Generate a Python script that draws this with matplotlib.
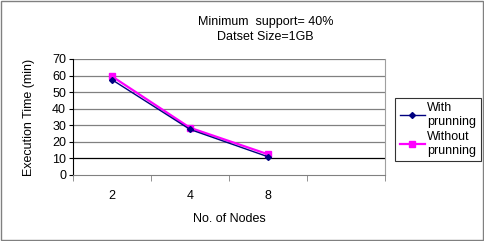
import numpy as np
import matplotlib.pyplot as plt

plt.rcParams['font.family'] = ['Liberation Sans', 'DejaVu Sans']

nodes = ['2', '4', '8', '']
with_pruning = [57.5, 27.5, 11.0]
without_pruning = [59.5, 28.5, 12.5]

fig = plt.figure(figsize=(4.85, 2.41), dpi=100)
ax = fig.add_axes([0.1505, 0.2739, 0.6433, 0.4813])

x = np.arange(len(with_pruning))
ax.plot(x, without_pruning, color='#FF00FF', marker='s', markersize=5,
        lw=1.6, label='Without\nprunning', zorder=3)
ax.plot(x, with_pruning, color='#000080', marker='D', markersize=3,
        lw=1.0, label='With\nprunning', zorder=4)

ax.set_xlim(-0.5, len(nodes) - 0.5)
ax.set_ylim(0, 70)
ax.set_yticks(range(0, 71, 10))
ax.set_xticks(np.arange(len(nodes)))
ax.set_xticklabels(nodes)
ax.set_xticks(np.arange(len(nodes) + 1) - 0.5, minor=True)
ax.tick_params(axis='x', which='major', length=0, pad=11, labelsize=9)
ax.tick_params(axis='x', which='minor', length=4, direction='out', color='#808080')
ax.tick_params(axis='y', length=3, labelsize=9, pad=2)

for v in range(10, 71, 10):
    ax.axhline(v, color='black' if v == 10 else '#808080', lw=0.9, zorder=1)

ax.spines['top'].set_visible(False)
ax.spines['right'].set_color('#a0a0a0')
ax.spines['left'].set_color('black')
ax.spines['bottom'].set_color('#808080')

ax.set_ylabel('Execution Time (min)', fontsize=9, labelpad=12)
ax.set_xlabel('No. of Nodes', fontsize=9, labelpad=8)

fig.text(0.547, 0.91, 'Minimum  support= 40%', ha='center', va='center', fontsize=9)
fig.text(0.547, 0.848, 'Datset Size=1GB', ha='center', va='center', fontsize=9)

h, l = ax.get_legend_handles_labels()
leg = fig.legend(h[::-1], l[::-1], loc='upper left', bbox_to_anchor=(0.815, 0.595),
                 fontsize=9, frameon=True, fancybox=False, edgecolor='black',
                 handlelength=2.0, handletextpad=0.2, borderpad=0.35,
                 labelspacing=0.25, borderaxespad=0)
leg.get_frame().set_linewidth(0.8)

fig.patches.append(plt.Rectangle((0.002, 0.004), 0.994, 0.99, transform=fig.transFigure,
                                 fill=False, edgecolor='#808080', lw=1))

fig.savefig('out.png', dpi=100)
